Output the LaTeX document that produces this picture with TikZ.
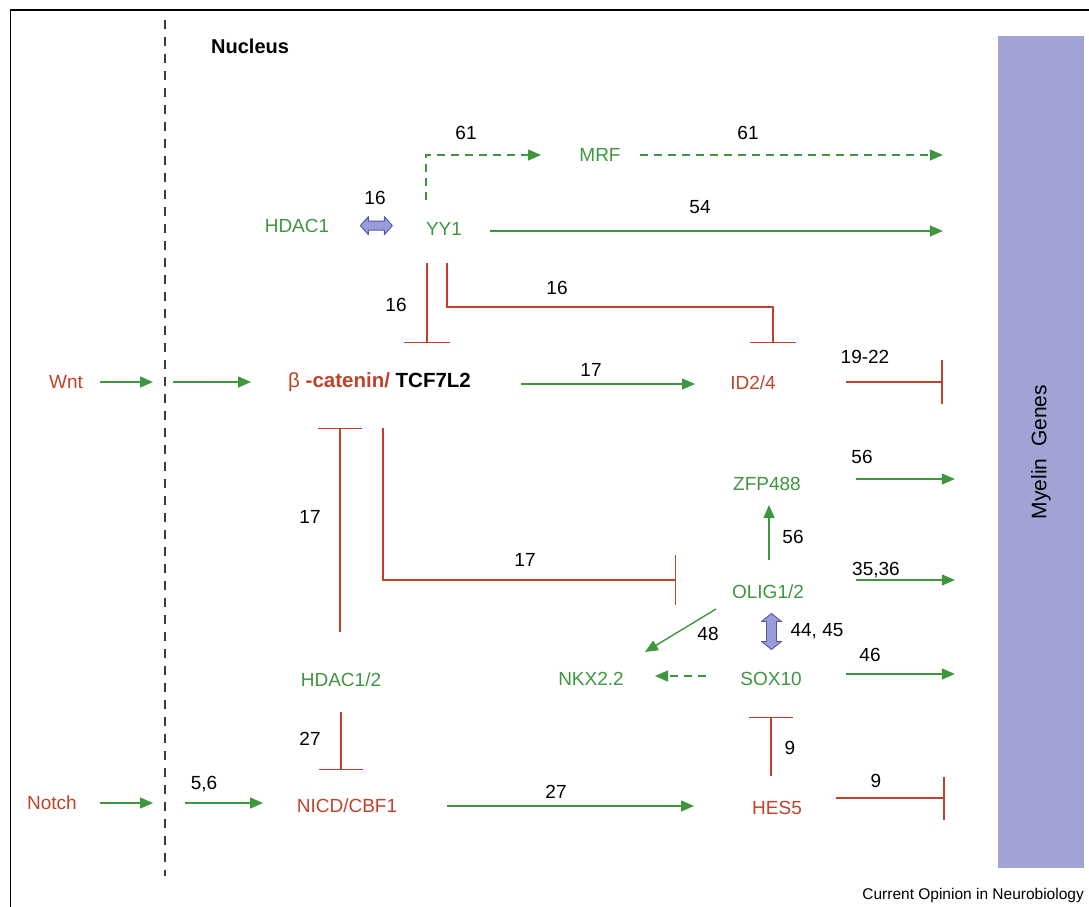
\documentclass[tikz,border=0pt]{standalone}
\usepackage{fontspec}
\setmainfont{Liberation Sans}
\usetikzlibrary{arrows.meta,calc}
\definecolor{grn}{RGB}{62,150,62}
\definecolor{rd}{RGB}{192,66,44}
\definecolor{barblue}{RGB}{160,163,211}
\definecolor{blkfill}{RGB}{152,156,216}
\definecolor{blkdraw}{RGB}{80,85,170}
\definecolor{memgray}{RGB}{60,60,60}
\tikzset{
  txt/.style={inner sep=0pt,font=\fontsize{19}{22}\selectfont},
  gtxt/.style={txt,text=grn},
  rtxt/.style={txt,text=rd},
  num/.style={txt,text=black},
  act/.style={draw=grn,line width=1.4pt,-{Triangle[length=13pt,width=11pt]}},
  actd/.style={act,dash pattern=on 8pt off 6pt},
  inh/.style={draw=rd,line width=1.4pt,-{Bar[width=#1,line width=1.4pt]}},
  inh/.default=46pt,
  blk/.style={fill=blkfill,draw=blkdraw,line width=0.9pt,line join=round},
}
\begin{document}
\begin{tikzpicture}[x=1pt,y=-1pt]
\useasboundingbox (0,0) rectangle (1089,907);
% frame
\draw[line width=1.4pt] (1089,10) -- (10.7,10) -- (10.7,907);
% membrane
\coordinate (memtop) at (165,20);
\coordinate (membot) at (165,876);
\draw[memgray,line width=1.5pt,dash pattern=on 9pt off 8pt] (memtop) -- (membot);
% myelin bar
\node[fill=barblue,minimum width=86pt,minimum height=832pt,inner sep=0pt] (bar) at (1041,452) {};
\node[txt,rotate=90,font=\fontsize{21}{22}\selectfont] (mg) at (bar.center) {Myelin\ \ Genes};
\node[txt,font=\bfseries\fontsize{20}{22}\selectfont,anchor=west] (nuc) at (211,46) {Nucleus};
\node[txt,font=\fontsize{15.5}{18}\selectfont,anchor=east] (credit) at (1084,895) {Current Opinion in Neurobiology};
% nodes
\node[gtxt] (hdac1) at (297,226) {HDAC1};
\node[gtxt] (yy1) at (444,229) {YY1};
\node[gtxt] (mrf) at (600,155) {MRF};
\node[rtxt] (wnt) at (66,382) {Wnt};
\node[txt,anchor=west,font=\fontsize{20.5}{22}\selectfont] (bcat) at (288,382) {\textcolor{rd}{β} \textcolor{rd}{\bfseries-catenin/} \textbf{TCF7L2}};
\node[rtxt] (id24) at (753,383) {ID2/4};
\node[gtxt] (zfp) at (767,484) {ZFP488};
\node[gtxt] (olig) at (768,592) {OLIG1/2};
\node[gtxt] (nkx) at (591,679) {NKX2.2};
\node[gtxt] (sox) at (771,679) {SOX10};
\node[gtxt] (hdac12) at (341,680) {HDAC1/2};
\node[rtxt] (notch) at (52,803) {Notch};
\node[rtxt] (nicd) at (347,806) {NICD/CBF1};
\node[rtxt] (hes5) at (777,808) {HES5};
% numbers
\node[num] (n61a) at (466,133) {61};
\node[num] (n61b) at (748,133) {61};
\node[num] (n16a) at (375,198) {16};
\node[num] (n54) at (700,207) {54};
\node[num] (n16b) at (396,305) {16};
\node[num] (n16c) at (557,288) {16};
\node[num] (n17a) at (591,370) {17};
\node[num] (n1922) at (865,357) {19-22};
\node[num] (n17b) at (310,517) {17};
\node[num] (n17c) at (525,560) {17};
\node[num] (n56a) at (862,457) {56};
\node[num] (n56b) at (793,537) {56};
\node[num] (n3536) at (876,570) {35,36};
\node[num] (n48) at (708,634) {48};
\node[num] (n4445) at (817,631) {44, 45};
\node[num] (n46) at (870,655) {46};
\node[num] (n27a) at (310,739) {27};
\node[num] (n9a) at (790,748) {9};
\node[num] (n56c) at (204,784) {5,6};
\node[num] (n27b) at (556,792) {27};
\node[num] (n9b) at (876,781) {9};
% block double arrows
\coordinate (dbl1) at ($(hdac1)!0.54!(yy1)+(0,-2)$);
\coordinate (dbl2) at ($(olig)!0.5!(sox)+(2,-4)$);
\draw[blk,shift={(dbl1)}] (-16,0) -- (-8,-9) -- (-8,-4.5) -- (8,-4.5) -- (8,-9) -- (16,0)
  -- (8,9) -- (8,4.5) -- (-8,4.5) -- (-8,9) -- cycle;
\draw[blk,shift={(dbl2)}] (0,-18) -- (10,-10) -- (5,-10) -- (5,10) -- (10,10) -- (0,18)
  -- (-10,10) -- (-5,10) -- (-5,-10) -- (-10,-10) -- cycle;
% connectors
\draw[actd] ($(yy1)+(-18,-29)$) |- ($(mrf)+(-59,0)$);
\draw[actd] ($(mrf)+(40,0)$) -- ($(bar.west|-mrf)+(-55,0)$);
\draw[act] ($(yy1)+(46,2)$) -- ($(bar.west|-yy1)+(-55,2)$);
\draw[inh] ($(yy1)+(-17,34)$) -- ($(bcat.west)+(139,-39)$);
\draw[inh] ($(yy1)+(3,34)$) |- ($(id24)+(20,-76)$) -- ($(id24)+(20,-40)$);
\draw[act] ($(wnt)+(34,0)$) -- ($(memtop|-wnt)+(-12,0)$);
\draw[act] ($(memtop|-wnt)+(8,0)$) -- ($(bcat.west)+(-37,0)$);
\draw[act] ($(bcat.west)+(233,2)$) -- ($(id24)+(-58,1)$);
\draw[inh=44pt] ($(id24)+(93,-1)$) -- ($(bar.west|-id24)+(-55,-1)$);
\draw[inh=44pt] ($(hdac12)+(-1,-48)$) -- ($(bcat.west)+(52,46)$);
\draw[inh=50pt] ($(bcat.west)+(95,46)$) |- ($(olig)+(-92,-12)$);
\draw[act] ($(olig)+(1,-32)$) -- ($(zfp)+(2,21)$);
\draw[act] ($(zfp)+(89,-5)$) -- ($(bar.west|-zfp)+(-43,-5)$);
\draw[act] ($(olig)+(88,-12)$) -- ($(bar.west|-olig)+(-43,-12)$);
\draw[act] ($(olig)+(-52,17)$) -- ($(nkx)+(54,-27)$);
\draw[actd] ($(sox)+(-65,-3)$) -- ($(nkx)+(64,-3)$);
\draw[act] ($(sox)+(75,-5)$) -- ($(bar.west|-sox)+(-43,-5)$);
\draw[inh=44pt] ($(hdac12)+(0,32)$) -- ($(nicd)+(-6,-36)$);
\draw[inh=44pt] ($(hes5)+(-6,-32)$) -- ($(sox)+(0,38)$);
\draw[act] ($(notch)+(48,0)$) -- ($(memtop|-notch)+(-12,0)$);
\draw[act] ($(memtop|-notch)+(20,0)$) -- ($(nicd)+(-84,-3)$);
\draw[act] ($(nicd)+(100,0)$) -- ($(hes5)+(-83,-2)$);
\draw[inh=43pt] ($(hes5)+(59,-10)$) -- ($(bar.west|-hes5)+(-53,-10)$);
\end{tikzpicture}
\end{document}
